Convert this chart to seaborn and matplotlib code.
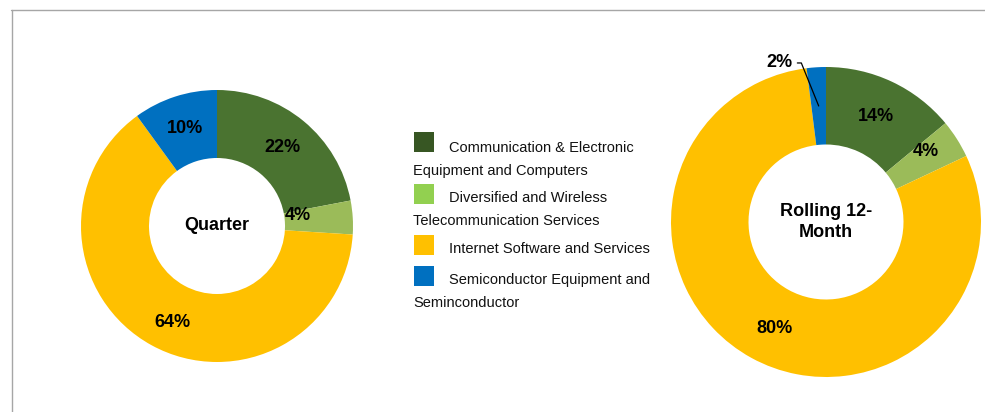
import numpy as np
import matplotlib
matplotlib.use("Agg")
import matplotlib.pyplot as plt
from matplotlib import font_manager
from matplotlib.patches import Rectangle
from matplotlib.lines import Line2D
import seaborn as sns

# ---- data ----
categories = [
    "Communication & Electronic\nEquipment and Computers",
    "Diversified and Wireless\nTelecommunication Services",
    "Internet Software and Services",
    "Semiconductor Equipment and\nSeminconductor",
]
quarter_vals = [22, 4, 64, 10]
rolling_vals = [14, 4, 80, 2]
center_titles = ["Quarter", "Rolling 12-\nMonth"]

slice_colors = ["#4A7330", "#9BBB59", "#FFC000", "#0070C0"]
legend_colors = ["#375623", "#92D050", "#FFC000", "#0070C0"]

sns.set_theme(style="white")
names = {f.name for f in font_manager.fontManager.ttflist}
if "Liberation Sans Narrow" in names:
    narrow, nsize = "Liberation Sans Narrow", 14
else:
    narrow, nsize = "Liberation Sans", 13
plt.rcParams["font.family"] = ["Liberation Sans", "DejaVu Sans"]

W, H = 985, 412
fig = plt.figure(figsize=(W / 100, H / 100), dpi=100)
fig.patch.set_facecolor("white")

def px_axes(cx, cy, r):
    return fig.add_axes([(cx - r) / W, (H - cy - r) / H, 2 * r / W, 2 * r / H])

ax1 = px_axes(217, 226, 136)
ax2 = px_axes(826, 222, 155)

def donut(ax, vals, title, offsets):
    wedges, _ = ax.pie(vals, colors=slice_colors, startangle=90, counterclock=False,
                       radius=1.0, wedgeprops=dict(width=0.5, edgecolor="none"))
    ax.set_xlim(-1, 1)
    ax.set_ylim(-1, 1)
    ax.set_aspect("equal")
    ax.axis("off")
    for w, v, off in zip(wedges, vals, offsets):
        ang = np.deg2rad((w.theta1 + w.theta2) / 2)
        x, y = 0.75 * np.cos(ang), 0.75 * np.sin(ang)
        if off is None:
            # small slice: label outside with leader line
            ax.annotate(f"{v}%", xy=(x, y), xytext=(-0.215, 1.026),
                        ha="right", va="center", fontsize=nsize, fontweight="bold",
                        family=narrow, color="black",
                        arrowprops=dict(arrowstyle="-", color="black", lw=0.9,
                                        shrinkA=1, shrinkB=0,
                                        connectionstyle="angle,angleA=0,angleB=-68,rad=0"),
                        annotation_clip=False)
        else:
            ax.annotate(f"{v}%", xy=(x, y), xytext=off, textcoords="offset points",
                        ha="center", va="center", fontsize=nsize, fontweight="bold",
                        family=narrow, color="black")
    ax.text(0, 0, title, ha="center", va="center", fontsize=nsize, fontweight="bold",
            family=narrow, color="black", linespacing=1.35)

donut(ax1, quarter_vals, center_titles[0], [(0, 0), (-15, 3), (3, -5), (0, 0)])
donut(ax2, rolling_vals, center_titles[1], [(0, 0), (1, 6), (3, -3), None])

# ---- legend (text flow with hanging lines) ----
marker_tops = [132, 184, 235, 266]
first_base = [152, 202, 253, 284]
line_gap = 23
for col, lab, top, base in zip(legend_colors, categories, marker_tops, first_base):
    fig.add_artist(Rectangle((414 / W, 1 - (top + 20) / H), 20 / W, 20 / H,
                             transform=fig.transFigure, facecolor=col, edgecolor="none"))
    lines = lab.split("\n")
    fig.text(449 / W, 1 - base / H, lines[0], ha="left", va="baseline",
             fontsize=10.5, color="#111111")
    for i, ln in enumerate(lines[1:], start=1):
        fig.text(413 / W, 1 - (base + i * line_gap) / H, ln, ha="left", va="baseline",
                 fontsize=10.5, color="#111111")

# ---- outer frame (top and left) ----
fig.add_artist(Line2D([11 / W, 1], [1 - 9.5 / H, 1 - 9.5 / H], transform=fig.transFigure,
                      color="#A6A6A6", lw=1.0))
fig.add_artist(Line2D([11.5 / W, 11.5 / W], [0, 1 - 9.5 / H], transform=fig.transFigure,
                      color="#A6A6A6", lw=1.0))

fig.savefig("out.png", dpi=100, facecolor="white")
